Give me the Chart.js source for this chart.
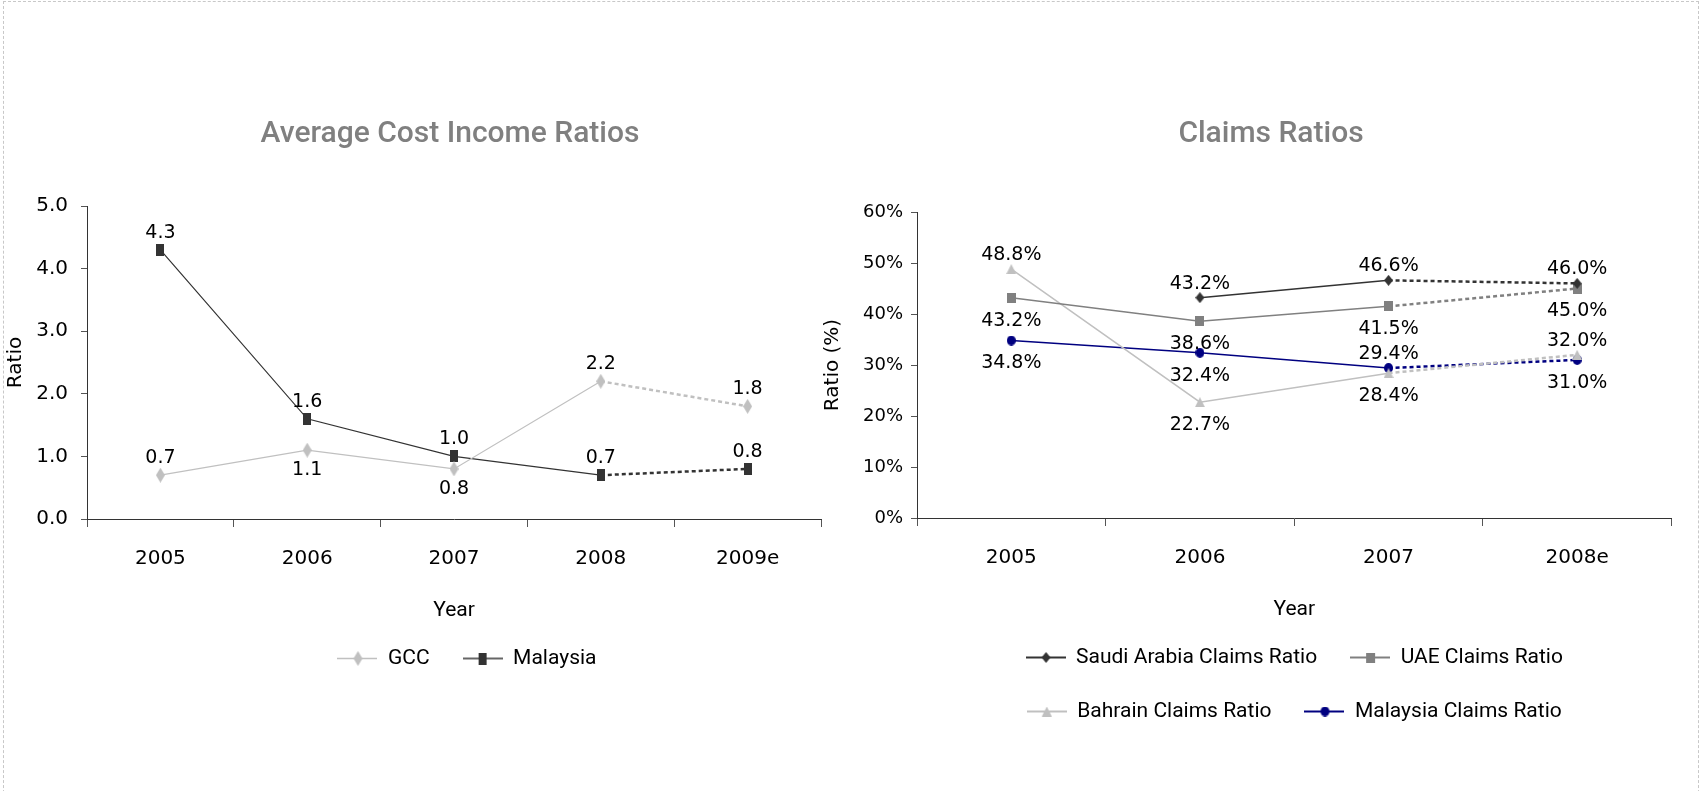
<!DOCTYPE html>
<html>
<head>
<meta charset="utf-8">
<script src="https://cdn.jsdelivr.net/npm/chart.js@4.4.1/dist/chart.umd.min.js"></script>
<style>
  html, body { margin: 0; padding: 0; background: #fff; overflow: hidden; }
  body { width: 1701px; height: 791px; position: relative; }
  .frame { position: absolute; left: 3px; top: 1px; width: 1694px; height: 830px; border: 1px dashed #c8c8c8; }
  .heading { position: absolute; top: 112px; width: 600px; margin-left: -300px; text-align: center;
             font: 500 30px Roboto, sans-serif; line-height: 40px; color: #808080; }
  canvas { position: absolute; top: 0; }
</style>
</head>
<body>
<div class="frame"></div>
<canvas id="costChart" width="934" height="791" style="left:0"></canvas>
<canvas id="claimsChart" width="863" height="791" style="left:815px"></canvas>
<div class="heading" style="left:450px">Average Cost Income Ratios</div>
<div class="heading" style="left:1271px">Claims Ratios</div>
<script>
// cost income ratios
const costYears = ['2005', '2006', '2007', '2008', '2009e'];
const gccRatio = [0.7, 1.1, 0.8, 2.2, 1.8];
const malaysiaRatio = [4.3, 1.6, 1.0, 0.7, 0.8];

// claims ratios (%)
const claimYears = ['2005', '2006', '2007', '2008e'];
const saudiClaims = [null, 43.2, 46.6, 46.0];
const uaeClaims = [43.2, 38.6, 41.5, 45.0];
const bahrainClaims = [48.8, 22.7, 28.4, 32.0];
const malaysiaClaims = [34.8, 32.4, 29.4, 31.0];

const tickFont = 'DejaVu Sans';
const textFont = 'Roboto';

// small canvas markers, used as pointStyle
function marker(shape, w, h, color) {
    var c = document.createElement('canvas');
    c.width = w; c.height = h;
    var g = c.getContext('2d');
    g.fillStyle = color;
    g.beginPath();
    if (shape === 'rect') {
        g.rect(0, 0, w, h);
    } else if (shape === 'diamond') {
        g.moveTo(w / 2, 0); g.lineTo(w, h / 2); g.lineTo(w / 2, h); g.lineTo(0, h / 2);
    } else if (shape === 'triangle') {
        g.moveTo(w / 2, 0); g.lineTo(w, h); g.lineTo(0, h);
    } else {
        g.ellipse(w / 2, h / 2, w / 2, h / 2, 0, 0, Math.PI * 2);
    }
    g.closePath();
    g.fill();
    return c;
}

// legend symbol: a short line with the marker in the middle
function legendIcon(point, color, lw) {
    var c = document.createElement('canvas');
    c.width = 40; c.height = Math.max(point.height, 4);
    var g = c.getContext('2d');
    g.strokeStyle = color;
    g.lineWidth = lw;
    g.beginPath();
    g.moveTo(0, c.height / 2);
    g.lineTo(40, c.height / 2);
    g.stroke();
    g.drawImage(point, Math.round((40 - point.width) / 2), Math.round((c.height - point.height) / 2));
    return c;
}

// last segment of each series is an estimate -> dotted
function estimate(last) {
    return {
        borderDash: ctx => ctx.p1DataIndex === last ? [4, 3] : undefined,
        borderWidth: ctx => ctx.p1DataIndex === last ? 2.5 : undefined
    };
}

function series(label, data, color, point, side, width) {
    return {
        label: label,
        data: data,
        labelSide: side,
        legendIcon: legendIcon(point, color, width + 0.5),
        borderColor: color,
        backgroundColor: color,
        borderWidth: width,
        pointStyle: point,
        pointRadius: 5,
        pointHoverRadius: 5,
        tension: 0,
        spanGaps: false,
        segment: estimate(data.length - 1)
    };
}

// value labels above / below each point
const valueLabels = {
    id: 'valueLabels',
    afterDatasetsDraw(chart, args, opts) {
        var ctx = chart.ctx;
        ctx.save();
        ctx.font = opts.size + 'px "' + tickFont + '"';
        ctx.fillStyle = '#000';
        ctx.textAlign = 'center';
        ctx.textBaseline = 'middle';
        chart.data.datasets.forEach((ds, i) => {
            chart.getDatasetMeta(i).data.forEach((pt, j) => {
                var v = ds.data[j];
                if (v === null) return;
                var dy = ds.labelSide[j] === 'below' ? opts.below : -opts.above;
                ctx.fillText(opts.format(v), pt.x, pt.y + dy);
            });
        });
        ctx.restore();
    }
};

function legendOptions(fullSize) {
    return {
        position: 'bottom',
        fullSize: fullSize,
        labels: {
            usePointStyle: true,
            pointStyleWidth: 40,
            padding: 33,
            color: '#000',
            font: { family: textFont, size: 21 },
            generateLabels: chart => chart.data.datasets.map((ds, i) => ({
                text: ds.label,
                pointStyle: ds.legendIcon,
                datasetIndex: i,
                hidden: false,
                lineWidth: 0,
                fontColor: '#000'
            }))
        }
    };
}

function axes(cfg) {
    return {
        x: {
            offset: true,
            grid: { offset: true, drawOnChartArea: false, tickLength: 8, color: '#555' },
            border: { color: '#333' },
            ticks: { padding: 20, color: '#000', font: { family: tickFont, size: 20 } },
            title: { display: true, text: 'Year', color: '#000', font: { family: textFont, size: 21 },
                     padding: { top: 0, bottom: cfg.yearPad } },
            afterFit: s => { s.height = cfg.xHeight; }
        },
        y: {
            min: 0,
            max: cfg.max,
            grid: { drawOnChartArea: false, tickLength: 6, color: '#555' },
            border: { color: '#333' },
            ticks: { stepSize: cfg.step, padding: cfg.tickPad, color: '#000',
                     font: { family: tickFont, size: cfg.tickSize }, callback: cfg.fmt },
            title: { display: true, text: cfg.title, color: '#000', font: { family: tickFont, size: 20 },
                     padding: { top: cfg.titlePad, bottom: 0 } },
            afterFit: s => { s.width = cfg.yWidth; }
        }
    };
}

const costScales = axes({ max: 5, step: 1, fmt: v => v.toFixed(1), tickPad: 13, tickSize: 20,
                          title: 'Ratio', titlePad: 4, yWidth: 87, xHeight: 96, yearPad: -8 });
// empty scale on the right: widens the legend box so the legend sits right of the plot centre
costScales.spacer = {
    type: 'linear', position: 'right', display: true,
    grid: { display: false }, border: { display: false }, ticks: { display: false },
    afterFit: s => { s.width = 113; }
};

new Chart(document.getElementById('costChart'), {
    type: 'line',
    data: {
        labels: costYears,
        datasets: [
            series('GCC', gccRatio, '#c0c0c0', marker('diamond', 9, 15, '#c0c0c0'),
                   ['above', 'below', 'below', 'above', 'above'], 1.2),
            series('Malaysia', malaysiaRatio, '#333333', marker('rect', 8, 12, '#333333'),
                   ['above', 'above', 'above', 'above', 'above'], 1.2)
        ]
    },
    options: {
        responsive: false,
        animation: false,
        events: [],
        layout: { padding: { top: 206, bottom: 112, left: 0, right: 0 } },
        scales: costScales,
        plugins: {
            legend: legendOptions(true),
            tooltip: { enabled: false },
            valueLabels: { size: 19, above: 17, below: 20, format: v => v.toFixed(1) }
        }
    },
    plugins: [valueLabels]
});

new Chart(document.getElementById('claimsChart'), {
    type: 'line',
    data: {
        labels: claimYears,
        datasets: [
            series('Saudi Arabia Claims Ratio', saudiClaims, '#333333', marker('diamond', 9, 11, '#333333'),
                   [null, 'above', 'above', 'above'], 1.5),
            series('UAE Claims Ratio', uaeClaims, '#808080', marker('rect', 9, 10, '#808080'),
                   ['below', 'below', 'below', 'below'], 1.5),
            series('Bahrain Claims Ratio', bahrainClaims, '#c0c0c0', marker('triangle', 10, 10, '#c0c0c0'),
                   ['above', 'below', 'below', 'above'], 1.5),
            series('Malaysia Claims Ratio', malaysiaClaims, '#000080', marker('circle', 9, 10, '#000080'),
                   ['below', 'below', 'above', 'below'], 1.5)
        ]
    },
    options: {
        responsive: false,
        animation: false,
        events: [],
        layout: { padding: { top: 212, bottom: 59, left: 0, right: 0 } },
        scales: axes({ max: 60, step: 10, fmt: v => v + '%', tickPad: 8, tickSize: 18,
                       title: 'Ratio (%)', titlePad: 6, yWidth: 102, xHeight: 96, yearPad: -8 }),
        plugins: {
            legend: legendOptions(false),
            tooltip: { enabled: false },
            valueLabels: { size: 19, above: 14, below: 23, format: v => v.toFixed(1) + '%' }
        }
    },
    plugins: [valueLabels]
});
</script>
</body>
</html>
